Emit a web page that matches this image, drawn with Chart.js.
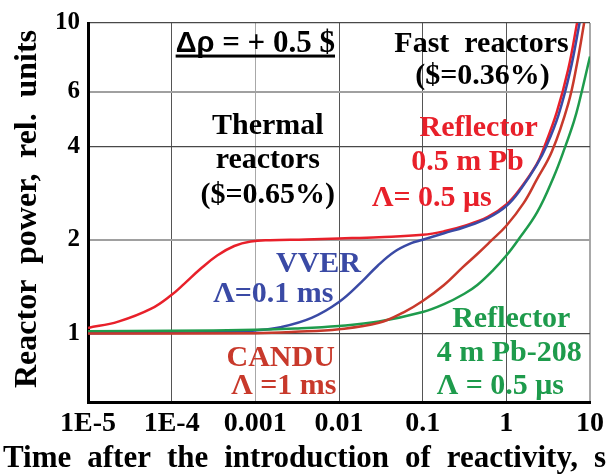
<!DOCTYPE html>
<html>
<head>
<meta charset="utf-8">
<script src="https://cdn.jsdelivr.net/npm/chart.js@4.4.0/dist/chart.umd.min.js"></script>
<style>
  html, body { margin: 0; padding: 0; background: #fff; }
  #wrap { width: 609px; height: 474px; }
</style>
</head>
<body>
<div id="wrap"><canvas id="chart" width="609" height="474"></canvas></div>
<script>
// axis ticks
const xTicks = [1e-5, 1e-4, 1e-3, 1e-2, 0.1, 1, 10];
const xTickLabels = ['1E-5', '1E-4', '0.001', '0.01', '0.1', '1', '10'];
const yTicks = [1, 2, 4, 6, 10];
const yTickLabels = ['1', '2', '4', '6', '10'];

// Reflector 0.5 m Pb, Lambda = 0.5 us
const timePb05 = [1e-5, 2.3e-5, 5.7e-5, 1e-4, 1.4e-4, 2.2e-4, 3.5e-4, 5.6e-4, 8.8e-4, 1.5e-3, 4e-3, 0.01, 0.03, 0.1, 0.18, 0.32, 0.6, 1, 1.5, 2.3, 2.8, 4, 5.5, 7, 8];
const powerPb05 = [1.04, 1.09, 1.2, 1.33, 1.44, 1.61, 1.78, 1.91, 1.975, 1.995, 2.005, 2.02, 2.04, 2.075, 2.13, 2.22, 2.37, 2.6, 2.95, 3.5, 3.95, 5.15, 7.1, 10, 12.3];

// VVER, Lambda = 0.1 ms
const timeVver = [1e-5, 1e-4, 5e-4, 1e-3, 2e-3, 4.7e-3, 0.01, 0.0185, 0.029, 0.046, 0.073, 0.1, 0.18, 0.32, 0.6, 1, 1.5, 2.3, 3, 4.2, 5.8, 7.5, 8.5];
const powerVver = [1.0, 1.003, 1.01, 1.02, 1.045, 1.12, 1.26, 1.46, 1.65, 1.83, 1.95, 2.0, 2.1, 2.2, 2.35, 2.57, 2.92, 3.48, 4.0, 5.05, 7.0, 10, 12];

// CANDU, Lambda = 1 ms
const timeCandu = [1e-5, 1e-3, 3e-3, 0.01, 0.03, 0.06, 0.1, 0.18, 0.3, 0.45, 0.65, 1, 1.6, 2.3, 3.5, 5.5, 7, 8.5, 9.5];
const powerCandu = [0.997, 1.0, 1.01, 1.03, 1.08, 1.17, 1.27, 1.43, 1.63, 1.80, 1.98, 2.22, 2.62, 3.12, 3.85, 5.5, 7.4, 10, 12];

// Reflector 4 m Pb-208, Lambda = 0.5 us
const timePb208 = [1e-5, 1e-4, 1e-3, 3e-3, 0.01, 0.03, 0.1, 0.18, 0.315, 0.45, 0.7, 1, 1.35, 2.33, 3.7, 5.07, 6.4, 7.3, 10];
const powerPb208 = [1.015, 1.018, 1.025, 1.035, 1.055, 1.09, 1.17, 1.24, 1.34, 1.43, 1.6, 1.78, 1.98, 2.45, 3.2, 4.0, 4.8, 5.45, 7.8];

const serif = '"Liberation Serif", "Times New Roman", serif';
const RED = '#e8202a', BLUE = '#3a4aa5', DARKRED = '#c8392b', GREEN = '#1e9b4c';

// labels in the plot, anchored at (time, power), centred, on their baseline
const notes = [
  { text: 'Fast  reactors', t: 0.505, p: 8.09, color: '#000' },
  { text: '($=0.36%)', t: 0.519, p: 6.35, color: '#000' },
  { text: 'Thermal', t: 1.41e-3, p: 4.40, color: '#000' },
  { text: 'reactors', t: 1.41e-3, p: 3.40, color: '#000' },
  { text: '($=0.65%)', t: 1.41e-3, p: 2.63, color: '#000' },
  { text: 'Reflector', t: 0.466, p: 4.33, color: RED },
  { text: '0.5 m Pb', t: 0.344, p: 3.35, color: RED },
  { text: 'Λ= 0.5 μs', t: 0.1285, p: 2.573, color: RED },
  { text: 'VVER', t: 5.69e-3, p: 1.573, color: BLUE },
  { text: 'Λ=0.1 ms', t: 1.64e-3, p: 1.262, color: BLUE },
  { text: 'CANDU', t: 2.01e-3, p: 0.783, color: DARKRED },
  { text: 'Λ =1 ms', t: 2.19e-3, p: 0.6375, color: DARKRED },
  { text: 'Reflector', t: 1.147, p: 1.05, color: GREEN },
  { text: '4 m Pb-208', t: 1.085, p: 0.812, color: GREEN },
  { text: 'Λ = 0.5 μs', t: 0.849, p: 0.6375, color: GREEN }
];

function toPoints(ts, ps) {
  return ts.map((t, i) => ({ x: t, y: ps[i] }));
}

function spreadWords(ctx, words, start, end, y) {
  const widths = words.map(w => ctx.measureText(w).width);
  const total = widths.reduce((a, b) => a + b, 0);
  const gap = (end - start - total) / (words.length - 1);
  let x = start;
  words.forEach((w, i) => {
    ctx.fillText(w, x, y);
    x += widths[i] + gap;
  });
}

const textPlugin = {
  id: 'textPlugin',
  afterDatasetsDraw(chart) {
    const ctx = chart.ctx;
    const xs = chart.scales.x, ys = chart.scales.y;
    ctx.save();
    ctx.textBaseline = 'alphabetic';
    ctx.textAlign = 'center';
    ctx.font = 'bold 30px ' + serif;
    notes.forEach(n => {
      ctx.fillStyle = n.color;
      ctx.fillText(n.text, xs.getPixelForValue(n.t), ys.getPixelForValue(n.p));
    });

    // delta rho = + 0.5 $
    const cx = xs.getPixelForValue(1e-3), by = ys.getPixelForValue(8.09);
    ctx.textAlign = 'left';
    ctx.fillStyle = '#000';
    ctx.font = 'bold 29px "Liberation Sans", Arial, sans-serif';
    const a = 'Δρ';
    const wa = ctx.measureText(a).width;
    ctx.font = 'bold 31px ' + serif;
    const b = ' = + 0.5 $';
    const wb = ctx.measureText(b).width;
    const x0 = cx - (wa + wb) / 2;
    ctx.font = 'bold 29px "Liberation Sans", Arial, sans-serif';
    ctx.fillText(a, x0, by);
    ctx.font = 'bold 31px ' + serif;
    ctx.fillText(b, x0 + wa, by);
    ctx.fillRect(x0, by + 3, wa + wb, 3);

    // axis titles
    ctx.font = 'bold 31px ' + serif;
    spreadWords(ctx, ['Time', 'after', 'the', 'introduction', 'of', 'reactivity,', 's'], 3, 606, 467);
    ctx.translate(36, 388);
    ctx.rotate(-Math.PI / 2);
    ctx.font = 'bold 32px ' + serif;
    spreadWords(ctx, ['Reactor', 'power,', 'rel.', 'units'], 0, 358, 0);
    ctx.restore();
  }
};

const lineStyle = { borderWidth: 2.5, pointRadius: 0, tension: 0.4, fill: false };

new Chart(document.getElementById('chart'), {
  type: 'line',
  data: {
    datasets: [
      Object.assign({ label: 'CANDU', data: toPoints(timeCandu, powerCandu), borderColor: DARKRED }, lineStyle),
      Object.assign({ label: 'Pb-208', data: toPoints(timePb208, powerPb208), borderColor: GREEN }, lineStyle),
      Object.assign({ label: 'VVER', data: toPoints(timeVver, powerVver), borderColor: BLUE }, lineStyle),
      Object.assign({ label: 'Pb 0.5 m', data: toPoints(timePb05, powerPb05), borderColor: RED }, lineStyle)
    ]
  },
  options: {
    responsive: false,
    animation: false,
    layout: { padding: { top: 18, right: 16, left: 0, bottom: 0 } },
    plugins: { legend: { display: false }, tooltip: { enabled: false } },
    scales: {
      x: {
        type: 'logarithmic',
        min: 1e-5,
        max: 10,
        afterBuildTicks: s => { s.ticks = xTicks.map(v => ({ value: v })); },
        afterFit: s => { s.height = 72; },
        ticks: {
          callback: (v, i) => xTickLabels[i],
          autoSkip: false,
          maxRotation: 0,
          padding: 5,
          color: '#000',
          font: { family: serif, weight: 'bold', size: 28 }
        },
        grid: {
          drawTicks: false,
          color: c => (c.tick && (c.tick.value === 10 || c.tick.value === 1e-3)) ? '#a8a8a8' : '#555',
          lineWidth: c => (c.tick && c.tick.value === 10) ? 2 : 1
        },
        border: { color: '#000', width: 3 }
      },
      y: {
        type: 'logarithmic',
        min: 0.6,
        max: 10,
        afterBuildTicks: s => { s.ticks = yTicks.map(v => ({ value: v })); },
        afterFit: s => { s.width = 88; },
        ticks: {
          callback: (v, i) => yTickLabels[i],
          autoSkip: false,
          padding: 8,
          color: '#000',
          font: { family: serif, weight: 'bold', size: 25 }
        },
        grid: {
          drawTicks: false,
          color: c => (c.tick && (c.tick.value === 6 || c.tick.value === 2)) ? '#a0a0a0' : '#484848',
          lineWidth: c => (c.tick && (c.tick.value === 6 || c.tick.value === 2)) ? 2 : 1.2
        },
        border: { color: '#000', width: 3 }
      }
    }
  },
  plugins: [textPlugin]
});
</script>
</body>
</html>
